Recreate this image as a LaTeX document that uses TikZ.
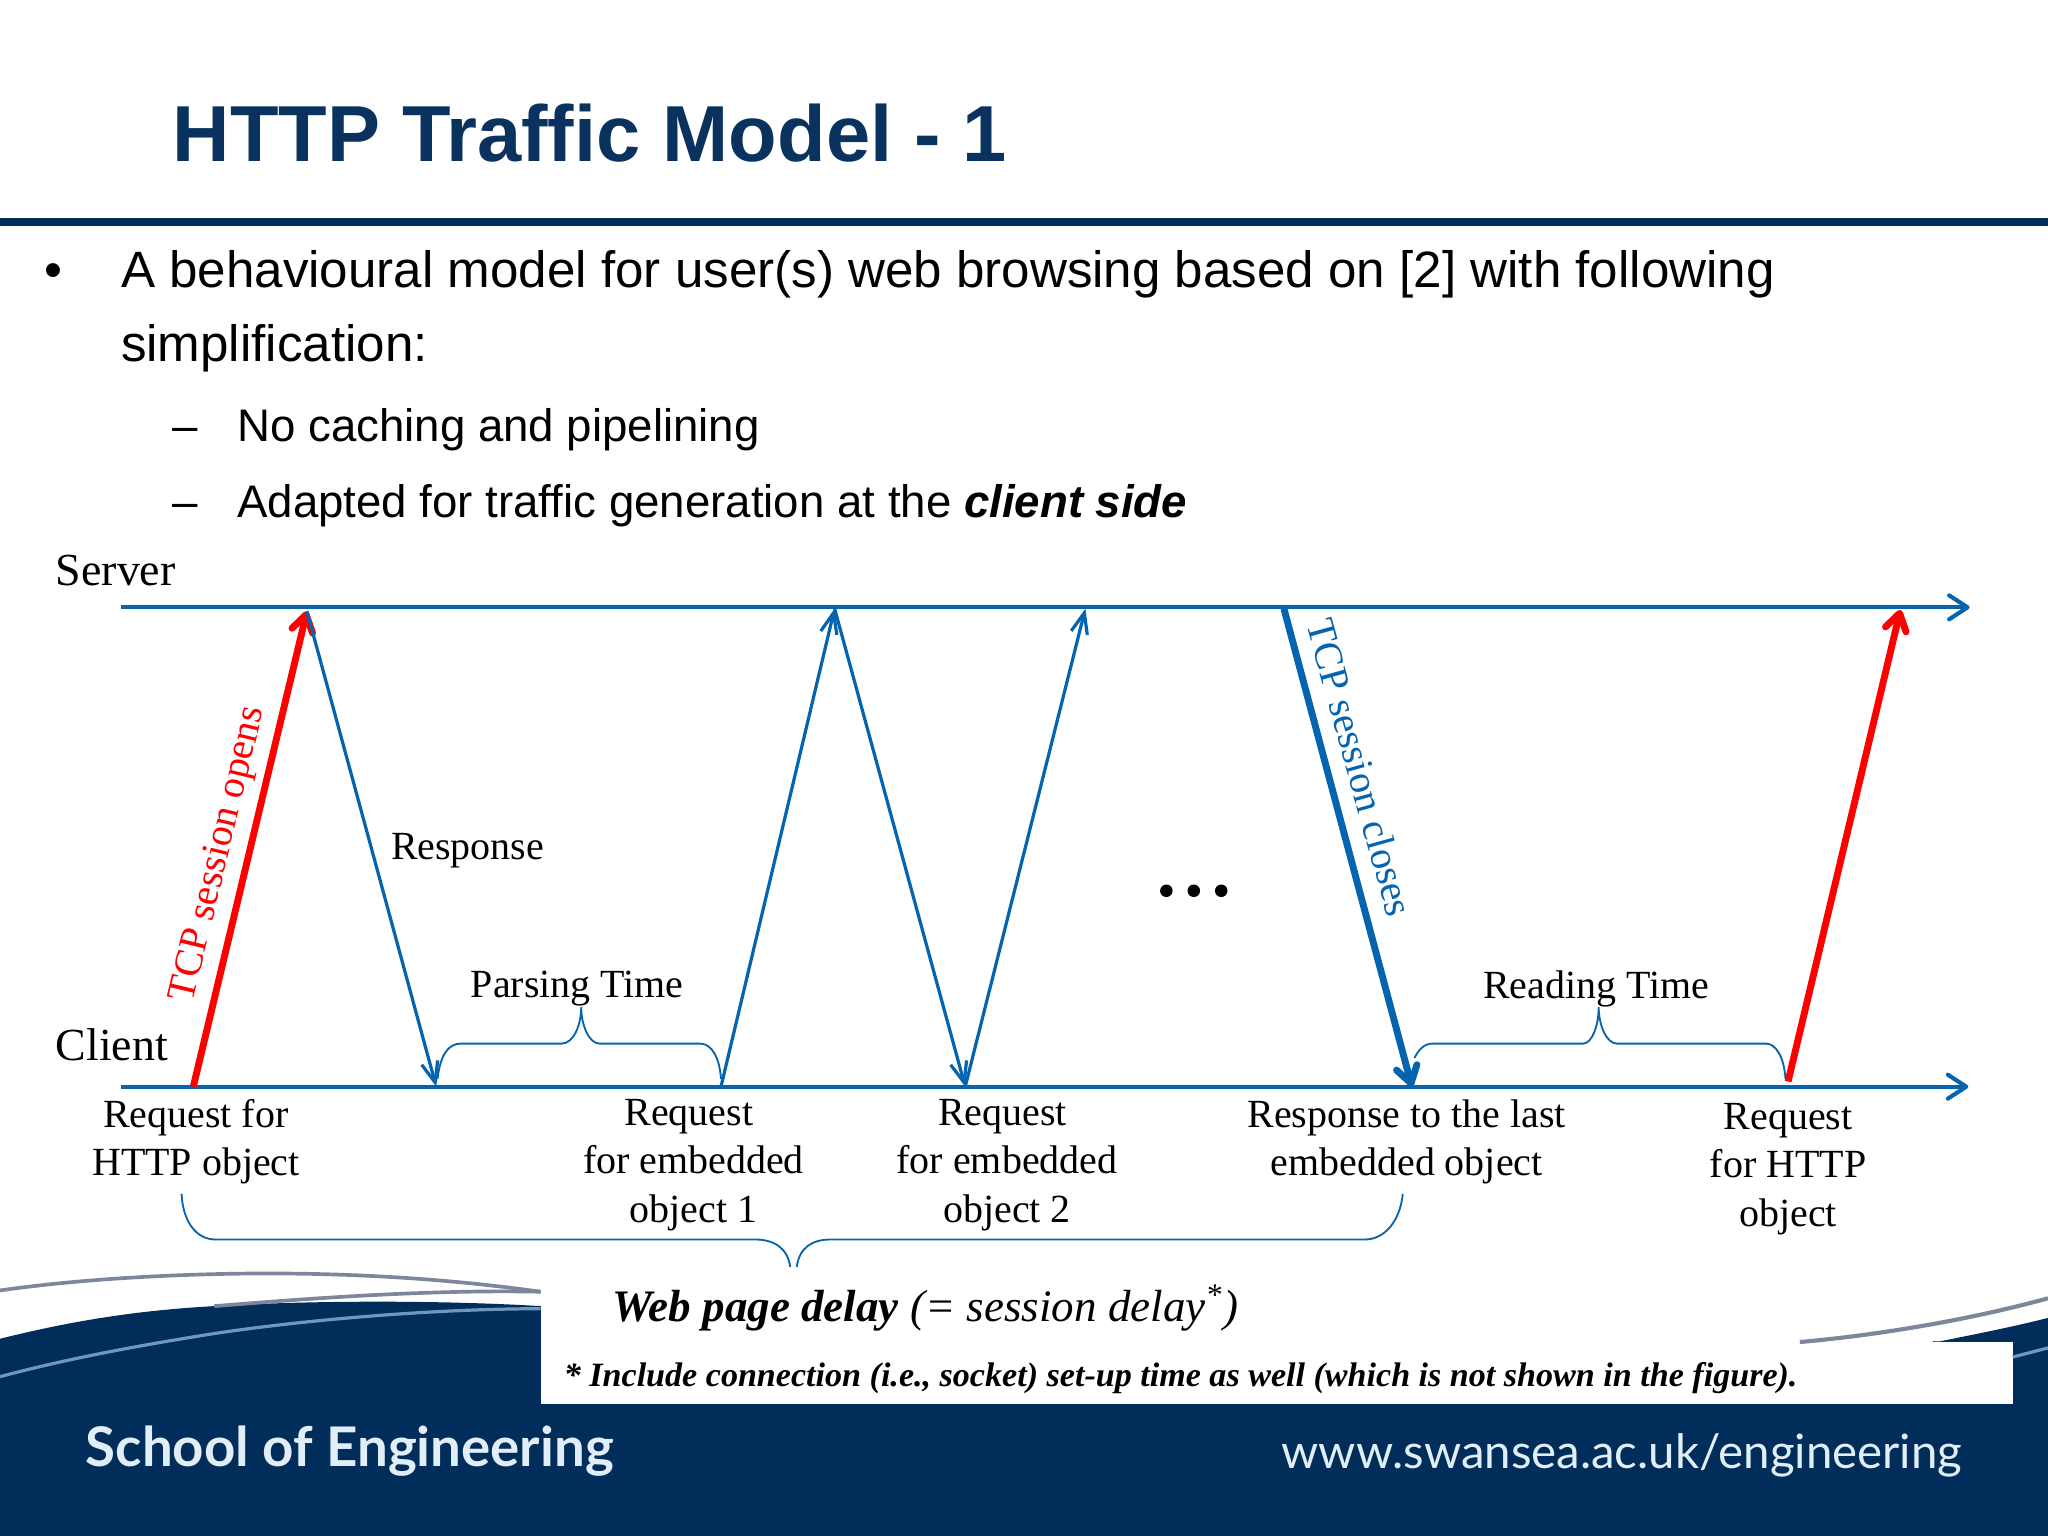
\documentclass[tikz,border=0pt]{standalone}
\usepackage{fontspec}
\setmainfont{Liberation Serif}
\newfontfamily\arialfont{Liberation Sans}
\newfontfamily\footfont{Lato}
\usetikzlibrary{positioning}
\usetikzlibrary{arrows.meta}
\definecolor{navyband}{RGB}{0,45,90}
\definecolor{titleblue}{RGB}{10,50,95}
\definecolor{flowblue}{RGB}{5,100,175}
\definecolor{swooshgrey}{RGB}{125,135,155}
\definecolor{swooshlight}{RGB}{110,150,190}
\definecolor{foottext}{RGB}{225,238,248}
\tikzset{
	flow/.style={draw=flowblue, line width=0.7pt, -{Straight Barb[length=4.5pt,width=3.6pt]}},
	tcpopen/.style={draw=red, line width=1.5pt, -{Straight Barb[round,length=3.6pt,width=4.6pt]}},
	tcpclose/.style={draw=flowblue, line width=1.5pt, -{Straight Barb[round,length=3.6pt,width=4.6pt]}},
	timeline/.style={draw=flowblue, line width=0.9pt, -{Straight Barb[round,length=4pt,width=5.2pt]}},
	bracepath/.style={draw=flowblue, line width=0.4pt},
	caption/.style={font=\fontsize{8.7}{10.5}\selectfont, align=center, inner sep=0pt},
	bodytext/.style={font=\arialfont\fontsize{11.13}{13}\selectfont, anchor=base west, inner sep=0pt},
	subtext/.style={font=\arialfont\fontsize{9.93}{12}\selectfont, anchor=base west, inner sep=0pt},
	foot/.style={text=foottext, anchor=base west, inner sep=0pt},
}
\begin{document}
\begin{tikzpicture}[x=0.01cm, y=-0.01cm]
	\useasboundingbox (0,0) rectangle (1568,1176);
	\fill[white] (0,0) rectangle (1568,1176);

	% Banda inferior
	\fill[navyband] (0,1025) .. controls (60,1010) and (110,1003) .. (164,1000)
		.. controls (230,996) and (330,995) .. (414,1000) -- (1485,1027)
		.. controls (1515,1021) and (1545,1015) .. (1568,1009) -- (1568,1176) -- (0,1176) -- cycle;
	\draw[swooshlight, line width=0.7pt] (0,1054) .. controls (60,1038) and (120,1028) .. (164,1021)
		.. controls (230,1011) and (330,1002) .. (414,1002);
	\draw[swooshgrey, line width=0.8pt] (0,988) .. controls (70,978) and (150,975) .. (205,975)
		.. controls (280,975) and (350,980) .. (414,989);
	\draw[swooshgrey, line width=0.8pt] (164,1000) .. controls (215,996) and (320,987) .. (414,989);
	\fill[white] (414,980) rectangle (1480,1028);
	\fill[white] (414,1027.5) rectangle (1541,1075);
	\draw[swooshgrey, line width=0.9pt] (1378,1027.5) .. controls (1440,1022) and (1510,1010) .. (1568,994);
	\draw[swooshlight, line width=0.7pt] (1541,1039) -- (1568,1032);
	\node[foot, font=\footfont\bfseries\fontsize{11.9}{13}\selectfont] (school) at (65,1123) {School of Engineering};
	\node[foot, anchor=base east, font=\footfont\fontsize{10.32}{13}\selectfont] (website) at (1503,1124) {www.swansea.ac.uk/engineering};

	% Cabecera
	\node[text=titleblue, font=\arialfont\bfseries\fontsize{17.3}{20}\selectfont, anchor=base west, inner sep=0pt] (title) at (131.5,124) {HTTP Traffic Model - 1};
	\fill[navyband] (0,167) rectangle (1568,173);
	\node[bodytext] (dot) at (33,220) {•};
	\node[bodytext] (line1) at (92,220) {A behavioural model for user(s) web browsing based on [2] with following};
	\node[bodytext] (line2) at (92,276.5) {simplification:};
	\node[subtext] (dash1) at (131,338) {–};
	\node[subtext] (item1) at (181,338) {No caching and pipelining};
	\node[subtext] (dash2) at (131,396) {–};
	\node[subtext] (item2) at (181,396) {Adapted for traffic generation at the \textbf{\textit{client side}}};

	% Coordenadas de las lineas
	\coordinate (S0) at (93,465);
	\coordinate (S1) at (1508,465);
	\coordinate (C0) at (93,832);
	\coordinate (C1) at (1507,832);
	\coordinate (open) at (148,832);
	\coordinate (top1) at (235,468);
	\coordinate (resp) at (334,832);
	\coordinate (req1) at (552,832);
	\coordinate (top2) at (639,466);
	\coordinate (resp2) at (739,832);
	\coordinate (top3) at (831,466);
	\coordinate (closeA) at (983,466);
	\coordinate (closeB) at (1081,832);
	\coordinate (req2) at (1369,828);
	\coordinate (top4) at (1455,467);

	% Lineas de tiempo
	\draw[timeline] (S0) -- (S1);
	\draw[timeline] (C0) -- (C1);
	\node[caption, font=\fontsize{10}{12}\selectfont, anchor=base west] (server) at (42,448) {Server};
	\node[caption, font=\fontsize{10}{12}\selectfont, anchor=base west] (client) at (42,812) {Client};

	% Flechas
	\draw[tcpopen] (open) -- (top1);
	\draw[flow] (top1) -- (resp);
	\draw[flow] (req1) -- (top2);
	\draw[flow] (top2) -- (resp2);
	\draw[flow] (resp2) -- (top3);
	\draw[tcpclose] (closeA) -- (closeB);
	\draw[tcpopen] (req2) -- (top4);

	% Etiquetas de las flechas
	\node[caption, text=red, rotate=76.5] (opens) at (168,654) {TCP session opens};
	\node[caption, text=flowblue, rotate=-74.5] (closes) at (1041.5,587.5) {TCP session closes};
	\node[caption] (response) at (358,651) {Response};
	\node[caption] (parsing) at (442,757) {Parsing Time};
	\node[caption] (reading) at (1222,757) {Reading Time};
	\fill (893,682) circle (4.8) (914,682) circle (4.8) (935,682) circle (4.8);

	% Llaves
	\draw[bracepath] (335,826) .. controls (337,808) and (343,799) .. (353,799) -- (430,799)
		.. controls (439,799) and (445,785) .. (445,771) .. controls (445,785) and (451,799) .. (459,799)
		-- (536,799) .. controls (545,799) and (551,810) .. (552,826);
	\draw[bracepath] (1083,810) .. controls (1086,804) and (1090,799) .. (1097,799) -- (1212,799)
		.. controls (1219,799) and (1224,785) .. (1224,771) .. controls (1224,785) and (1230,799) .. (1238,799)
		-- (1352,799) .. controls (1360,799) and (1366,810) .. (1367,826);
	\draw[bracepath] (139,914) .. controls (140,935) and (150,949) .. (165,949) -- (578,949)
		.. controls (592,949) and (603,955) .. (605,970);
	\draw[bracepath] (610,970) .. controls (612,955) and (622,949) .. (636,949)
		-- (1045,949) .. controls (1060,949) and (1072,935) .. (1074,914);

	% Textos bajo el cliente
	\node[caption] (reqhttp) at (150,874) {Request for\\HTTP object};
	\node[caption] (reqobj1) at (531,892) {Request\hspace*{2pt}\\for embedded\\object 1};
	\node[caption] (reqobj2) at (771,892) {Request\hspace*{2pt}\\for embedded\\object 2};
	\node[caption] (lastobj) at (1077,874) {Response to the last\\embedded object};
	\node[caption] (reqlast) at (1369,895) {Request\\for HTTP\\object};

	\node[anchor=base west, inner sep=0pt, font=\fontsize{9.8}{12}\selectfont] (delay) at (468,1012) {\textbf{\textit{Web page delay}} \textit{(= session delay\textsuperscript{*})}};
	\node[anchor=base west, inner sep=0pt, font=\fontsize{7.42}{9}\selectfont] (note) at (431,1061.5) {\textbf{\textit{* Include connection (i.e., socket) set-up time as well (which is not shown in the figure).}}};
\end{tikzpicture}
\end{document}
